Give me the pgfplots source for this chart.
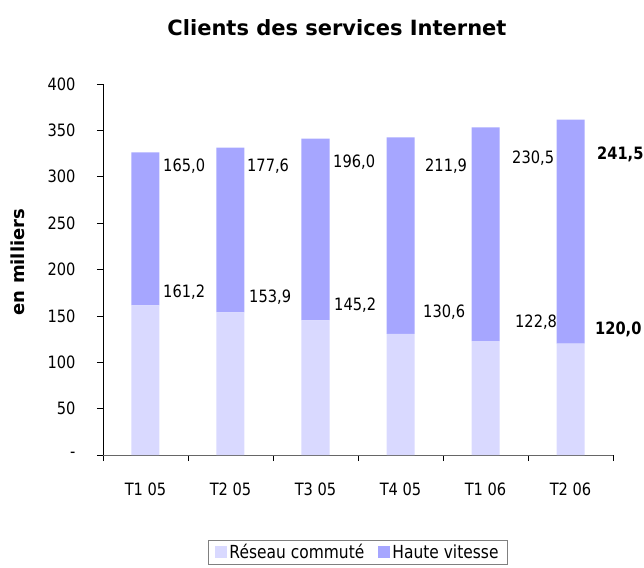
\documentclass[border=0pt]{standalone}
\usepackage{fontspec}
\setmainfont{DejaVu Sans}[FakeStretch=0.86]
\newfontfamily\titlefont{DejaVu Sans}
\usepackage{pgfplots}
\pgfplotsset{compat=1.18}
\definecolor{lo}{RGB}{217,217,255}
\definecolor{hi}{RGB}{166,166,255}

\begin{document}
\begin{tikzpicture}[font=\fontsize{17bp}{20bp}\selectfont]
\begin{axis}[
    at={(0,0)}, anchor=south west,
    scale only axis, width=510bp, height=371bp,
    ybar stacked, bar width=28bp,
    xmin=-0.5, xmax=5.5, ymin=0, ymax=400,
    clip=false,
    axis lines*=left,
    x axis line style={gray!80!black},
    tick align=outside, major tick length=6bp,
    tick style={black, line width=0.6pt},
    ytick={0,50,...,400},
    yticklabels={-,50,100,150,200,250,300,350,400},
    yticklabel style={xshift=-18bp},
    xtick={-0.5,0.5,...,5.5},
    xticklabels={T1 05,T2 05,T3 05,T4 05,T1 06,T2 06,{}},
    xticklabel style={xshift=42.5bp, yshift=-18bp},
    legend columns=2,
    legend style={at={(0.5,0)}, anchor=north, yshift=-85bp, draw=gray,
        font=\fontsize{18bp}{21bp}\selectfont,
        inner xsep=7bp, inner ysep=2bp,
        /tikz/every even column/.append style={column sep=12bp}},
    legend image code/.code={\fill[#1] (0bp,-6bp) rectangle (12bp,6bp);},
]
\addplot+[fill=lo, draw=none] coordinates {
    (0,161.2)(1,153.9)(2,145.2)(3,130.6)(4,122.8)(5,120.0)
};
\addplot+[fill=hi, draw=none] coordinates {
    (0,165.0)(1,177.6)(2,196.0)(3,211.9)(4,230.5)(5,241.5)
};
\legend{R\'eseau commut\'e, Haute vitesse}
% libellés des valeurs
\node[anchor=west, inner sep=0] at (axis cs:0.206,311.6) {165,0};
\node[anchor=west, inner sep=0] at (axis cs:1.194,311.6) {177,6};
\node[anchor=west, inner sep=0] at (axis cs:2.206,315.9) {196,0};
\node[anchor=west, inner sep=0] at (axis cs:3.288,311.6) {211,9};
\node[anchor=west, inner sep=0] at (axis cs:4.312,320.2) {230,5};
\node[anchor=west, inner sep=0, font=\fontsize{17bp}{20bp}\selectfont\bfseries] at (axis cs:5.312,324.5) {241,5};
\node[anchor=west, inner sep=0] at (axis cs:0.206,175.7) {161,2};
\node[anchor=west, inner sep=0] at (axis cs:1.218,170.3) {153,9};
\node[anchor=west, inner sep=0] at (axis cs:2.218,161.7) {145,2};
\node[anchor=west, inner sep=0] at (axis cs:3.265,154.2) {130,6};
\node[anchor=west, inner sep=0] at (axis cs:4.347,143.4) {122,8};
\node[anchor=west, inner sep=0, font=\fontsize{17bp}{20bp}\selectfont\bfseries] at (axis cs:5.288,135.8) {120,0};
\end{axis}
\node[font=\titlefont\fontsize{21bp}{24bp}\selectfont\bfseries] at (234bp,427bp) {Clients des services Internet};
\node[rotate=90, font=\titlefont\fontsize{18bp}{21bp}\selectfont\bfseries] at (-85bp,193bp) {en milliers};
\pgfresetboundingbox
\useasboundingbox (-103bp,-113bp) rectangle (541bp,455bp);
\end{tikzpicture}
\end{document}
